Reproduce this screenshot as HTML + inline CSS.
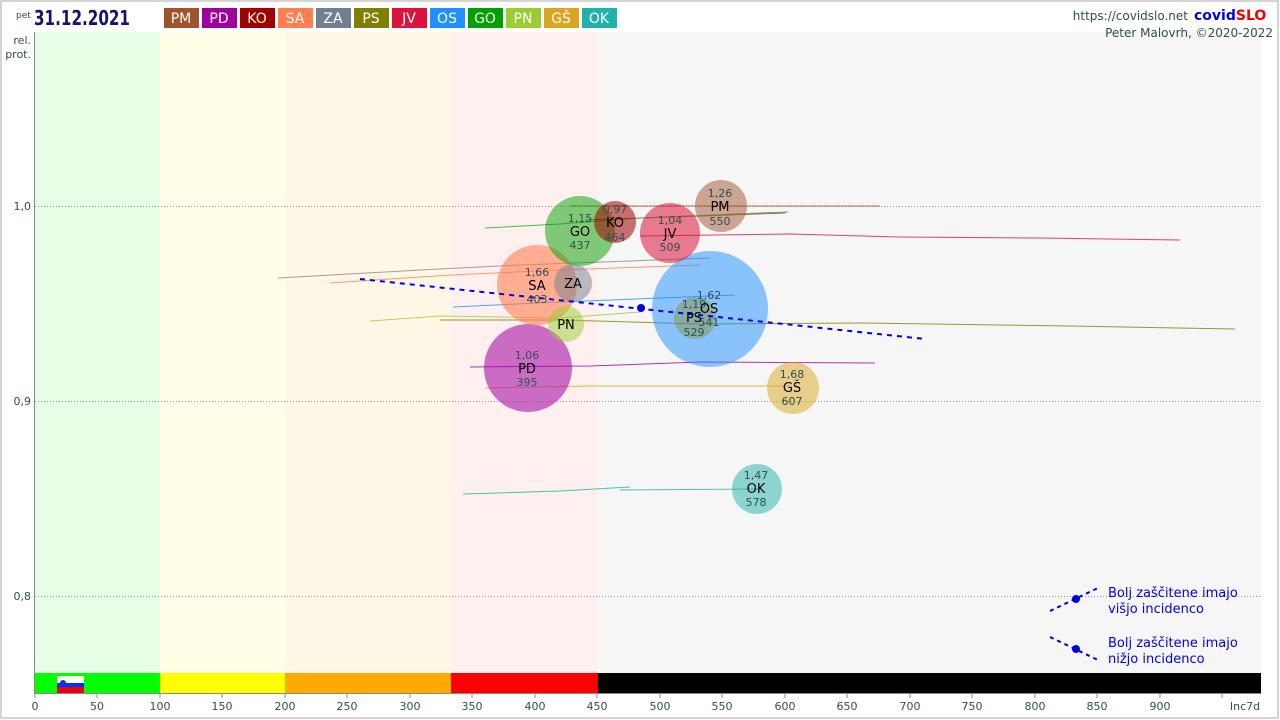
<!DOCTYPE html>
<html><head><meta charset="utf-8"><style>
html,body{margin:0;padding:0;background:#fff;}
svg{display:block;font-family:"DejaVu Sans","Liberation Sans",sans-serif;}
</style></head><body>
<svg width="1280" height="720" viewBox="0 0 1280 720" xmlns="http://www.w3.org/2000/svg">
<rect x="0" y="0" width="1280" height="720" fill="#fff"/>
<rect x="1" y="1" width="1277" height="717" fill="none" stroke="#aaa" stroke-width="1"/>
<rect x="35" y="32" width="125" height="641" fill="#e6fde6"/>
<rect x="160" y="32" width="125" height="641" fill="#fffee6"/>
<rect x="285" y="32" width="166" height="641" fill="#fff7e6"/>
<rect x="451" y="32" width="147" height="641" fill="#fff0f0"/>
<rect x="598" y="32" width="663" height="641" fill="#f6f6f6"/>
<rect x="35" y="673" width="125" height="20" fill="#00ff00"/>
<rect x="160" y="673" width="125" height="20" fill="#ffff00"/>
<rect x="285" y="673" width="166" height="20" fill="#ffaa00"/>
<rect x="451" y="673" width="147" height="20" fill="#ff0000"/>
<rect x="598" y="673" width="663" height="20" fill="#000"/>
<rect x="57" y="676" width="27" height="7" fill="#fff"/>
<rect x="57" y="683" width="27" height="4" fill="#0033ff"/>
<rect x="57" y="687" width="27" height="6" fill="#e00"/>
<circle cx="63" cy="683" r="3" fill="#0033ff"/>
<line x1="34.5" y1="32" x2="34.5" y2="694" stroke="#888"/>
<line x1="34" y1="693.5" x2="1261" y2="693.5" stroke="#888"/>
<g stroke="#999" stroke-dasharray="1,2">
<line x1="35" y1="206.5" x2="1261" y2="206.5"/>
<line x1="35" y1="401.5" x2="1261" y2="401.5"/>
<line x1="35" y1="596.5" x2="1261" y2="596.5"/>
</g>
<g font-size="11" fill="#2f4f4f" text-anchor="end">
<text x="31" y="210">1,0</text><text x="31" y="405">0,9</text><text x="31" y="600">0,8</text>
<text x="31" y="44">rel.</text><text x="31" y="58">prot.</text>
</g>
<g stroke="#888">
<line x1="35" y1="693" x2="35" y2="698"/><line x1="97" y1="693" x2="97" y2="698"/><line x1="160" y1="693" x2="160" y2="698"/><line x1="222" y1="693" x2="222" y2="698"/><line x1="285" y1="693" x2="285" y2="698"/><line x1="347" y1="693" x2="347" y2="698"/><line x1="410" y1="693" x2="410" y2="698"/><line x1="472" y1="693" x2="472" y2="698"/><line x1="535" y1="693" x2="535" y2="698"/><line x1="597" y1="693" x2="597" y2="698"/><line x1="660" y1="693" x2="660" y2="698"/><line x1="722" y1="693" x2="722" y2="698"/><line x1="785" y1="693" x2="785" y2="698"/><line x1="847" y1="693" x2="847" y2="698"/><line x1="910" y1="693" x2="910" y2="698"/><line x1="972" y1="693" x2="972" y2="698"/><line x1="1035" y1="693" x2="1035" y2="698"/><line x1="1097" y1="693" x2="1097" y2="698"/><line x1="1160" y1="693" x2="1160" y2="698"/><line x1="1222" y1="693" x2="1222" y2="698"/>
</g>
<g font-size="11" fill="#2f4f4f" text-anchor="middle">
<text x="35" y="710">0</text><text x="97" y="710">50</text><text x="160" y="710">100</text><text x="222" y="710">150</text><text x="285" y="710">200</text><text x="347" y="710">250</text><text x="410" y="710">300</text><text x="472" y="710">350</text><text x="535" y="710">400</text><text x="597" y="710">450</text><text x="660" y="710">500</text><text x="722" y="710">550</text><text x="785" y="710">600</text><text x="847" y="710">650</text><text x="910" y="710">700</text><text x="972" y="710">750</text><text x="1035" y="710">800</text><text x="1097" y="710">850</text><text x="1160" y="710">900</text><text x="1245" y="710">Inc7d</text>
</g>
<g fill="none" stroke-width="1" opacity="0.8">
<path d="M570 206 L880 206" stroke="#a0522d"/>
<path d="M585 220 L700 216 L785 213" stroke="#b22222"/>
<path d="M485 228 L560 224 L640 218 L760 213 L788 212" stroke="#2a2" />
<path d="M640 236 L790 234 L900 237 L1040 238 L1180 240" stroke="#dc143c"/>
<path d="M278 278 L420 270 L520 265 L710 258" stroke="#888"/>
<path d="M330 283 L450 275 L560 270 L700 265" stroke="#ff7f50"/>
<path d="M453 307 L560 302 L735 295" stroke="#1e90ff"/>
<path d="M370 321 L440 316 L560 318 L640 312" stroke="#9acd32"/>
<path d="M440 320 L560 320 L700 324 L860 323 L1070 326 L1235 329" stroke="#808000"/>
<path d="M470 367 L590 366 L700 362 L875 363" stroke="#a000a0"/>
<path d="M485 388 L590 386 L700 386 L790 386" stroke="#daa520"/>
<path d="M463 494 L560 491 L630 487 M620 490 L760 489" stroke="#20b2aa"/>
</g>
<g>
<circle cx="710" cy="309" r="58" fill="#1e90ff" opacity="0.5"/>
<circle cx="528" cy="368" r="44" fill="#a000a0" opacity="0.55"/>
<circle cx="537" cy="285" r="40" fill="#ff7f50" opacity="0.6"/>
<circle cx="580" cy="231" r="35" fill="#00a000" opacity="0.5"/>
<circle cx="670" cy="233" r="30" fill="#dc143c" opacity="0.55"/>
<circle cx="721" cy="206" r="26" fill="#a0522d" opacity="0.5"/>
<circle cx="615" cy="222" r="21" fill="#a00000" opacity="0.55"/>
<circle cx="573" cy="283" r="19" fill="#708090" opacity="0.5"/>
<circle cx="566" cy="324" r="18" fill="#9acd32" opacity="0.5"/>
<circle cx="695" cy="318" r="21" fill="#808000" opacity="0.35"/>
<circle cx="793" cy="388" r="26" fill="#daa520" opacity="0.5"/>
<circle cx="757" cy="489" r="25" fill="#20b2aa" opacity="0.5"/>
</g>
<line x1="360" y1="279" x2="925" y2="339" stroke="#0000ee" stroke-width="2" stroke-dasharray="5,5"/>
<circle cx="641" cy="308" r="4" fill="#0000ee"/>
<g font-size="11" fill="#2f4f4f" text-anchor="middle">
<text x="720" y="197">1,26</text><text x="720" y="225">550</text>
<text x="615" y="213">0,97</text><text x="615" y="241">464</text>
<text x="580" y="222">1,15</text><text x="580" y="249">437</text>
<text x="670" y="224">1,04</text><text x="670" y="251">509</text>
<text x="537" y="276">1,66</text><text x="537" y="303">403</text>
<text x="709" y="299">1,62</text><text x="709" y="326">541</text>
<text x="694" y="308">1,19</text><text x="694" y="336">529</text>
<text x="527" y="359">1,06</text><text x="527" y="386">395</text>
<text x="792" y="378">1,68</text><text x="792" y="405">607</text>
<text x="756" y="479">1,47</text><text x="756" y="506">578</text>
</g>
<g font-size="13" fill="#000" text-anchor="middle">
<text x="720" y="211">PM</text><text x="615" y="227">KO</text><text x="580" y="236">GO</text><text x="670" y="238">JV</text>
<text x="537" y="290">SA</text><text x="573" y="288">ZA</text><text x="566" y="329">PN</text><text x="709" y="313">OS</text>
<text x="694" y="322">PS</text><text x="527" y="373">PD</text><text x="792" y="392">GŠ</text><text x="756" y="493">OK</text>
</g>
<line x1="1050" y1="611" x2="1100" y2="587" stroke="#0000ee" stroke-width="2" stroke-dasharray="4,4"/>
<circle cx="1076" cy="599" r="4" fill="#0000ee"/>
<line x1="1050" y1="637" x2="1100" y2="661" stroke="#0000ee" stroke-width="2" stroke-dasharray="4,4"/>
<circle cx="1076" cy="649" r="4" fill="#0000ee"/>
<g font-size="13" fill="#0000ee">
<text x="1108" y="597">Bolj  zaščitene imajo</text><text x="1108" y="613">višjo incidenco</text>
<text x="1108" y="647">Bolj  zaščitene imajo</text><text x="1108" y="663">nižjo incidenco</text>
</g>
<text x="16" y="18" font-size="9" fill="#2f4f4f">pet</text>
<text x="34" y="25" font-size="20" font-weight="bold" fill="#141470" textLength="96" lengthAdjust="spacingAndGlyphs">31.12.2021</text>
<g font-size="14" fill="#fff" text-anchor="middle">
<rect x="164" y="8" width="35" height="20" fill="#a0522d"/><text x="181" y="23">PM</text>
<rect x="202" y="8" width="35" height="20" fill="#a000a0"/><text x="219" y="23">PD</text>
<rect x="240" y="8" width="35" height="20" fill="#a00000"/><text x="257" y="23">KO</text>
<rect x="278" y="8" width="35" height="20" fill="#ff7f50"/><text x="295" y="23">SA</text>
<rect x="316" y="8" width="35" height="20" fill="#708090"/><text x="333" y="23">ZA</text>
<rect x="354" y="8" width="35" height="20" fill="#808000"/><text x="371" y="23">PS</text>
<rect x="392" y="8" width="35" height="20" fill="#dc143c"/><text x="409" y="23">JV</text>
<rect x="430" y="8" width="35" height="20" fill="#1e90ff"/><text x="447" y="23">OS</text>
<rect x="468" y="8" width="35" height="20" fill="#00a000"/><text x="485" y="23">GO</text>
<rect x="506" y="8" width="35" height="20" fill="#9acd32"/><text x="523" y="23">PN</text>
<rect x="544" y="8" width="35" height="20" fill="#daa520"/><text x="561" y="23">GŠ</text>
<rect x="582" y="8" width="35" height="20" fill="#20b2aa"/><text x="599" y="23">OK</text>
</g>
<text x="1188" y="20" font-size="12" fill="#2f4f4f" text-anchor="end">https://covidslo.net</text>
<text x="1194" y="20" font-size="14" font-weight="bold" fill="#0000ee">covid<tspan fill="#ee0000">SLO</tspan></text>
<text x="1273" y="37" font-size="12" fill="#2f4f4f" text-anchor="end">Peter Malovrh, ©2020-2022</text>
</svg>
</body></html>
